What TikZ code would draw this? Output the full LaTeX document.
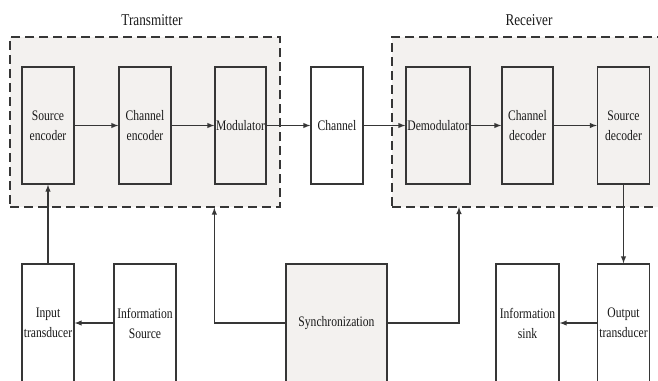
\documentclass[tikz,border=0pt]{standalone}
\usepackage{fontspec}
\setmainfont{Liberation Serif}[FakeStretch=0.8]
\usetikzlibrary{arrows,positioning}
\definecolor{boxfill}{HTML}{F3F1EF}
\definecolor{linegray}{HTML}{363636}
\tikzset{
  block/.style={draw=linegray, line width=1.3pt, fill=boxfill, minimum width=52pt,
    minimum height=117pt, align=center, inner sep=1pt,
    font=\fontsize{14.5}{20}\selectfont, text=black!90},
  plain/.style={block, fill=white},
  lowblock/.style={minimum height=118pt},
  group/.style={draw=linegray, line width=1.3pt, dash pattern=on 9pt off 5pt, fill=boxfill},
  flow/.style={-latex, line width=1.4pt, draw=linegray},
  title/.style={font=\fontsize{16.5}{18}\selectfont, text=black!90}
}

\begin{document}
\begin{tikzpicture}[x=1pt,y=-1pt]
\useasboundingbox (0,0) rectangle (658,380);
\clip (0,0) rectangle (658,380);
% dashed groups
\node[group, minimum width=270pt, minimum height=170pt] (tx) at (145,122) {};
\node[group, minimum width=290pt, minimum height=170pt] (rx) at (537,122) {};
\node[title] (txlabel) at (152,20) {Transmitter};
\node[title] (rxlabel) at (529,20) {Receiver};

% top row
\node[block] (srcenc) at (48,125.5) {Source\\encoder};
\node[block] (chenc) at (145,125.5) {Channel\\encoder};
\node[block, minimum width=51pt] (mod) at (240.5,125.5) {Modulator};
\node[plain] (chan) at (337,125.5) {Channel};
\node[block, minimum width=64pt] (demod) at (438,125.5) {Demodulator};
\node[block, minimum width=51pt] (chdec) at (527.5,125.5) {Channel\\decoder};
\node[block] (srcdec) at (623.5,125.5) {Source\\decoder};

% bottom row
\node[plain, lowblock] (intrans) at (48,323) {Input\\transducer};
\node[plain, lowblock, minimum width=62pt] (infosrc) at (145,323) {Information\\Source};
\node[block, lowblock, minimum width=101pt] (sync) at (336.5,323) {Synchronization};
\node[plain, lowblock, minimum width=63pt] (sink) at (527.5,323) {Information\\sink};
\node[plain, lowblock] (outtrans) at (623.5,323) {Output\\transducer};

% signal path
\draw[flow] (srcenc) -- (chenc);
\draw[flow] (chenc) -- (mod);
\draw[flow] (mod) -- (chan);
\draw[flow] (chan) -- (demod);
\draw[flow] (demod) -- (chdec);
\draw[flow] (chdec) -- (srcdec);
\draw[flow] (infosrc) -- (intrans);
\draw[flow] (intrans) -- (srcenc);
\draw[flow] (srcdec) -- (outtrans);
\draw[flow] (outtrans) -- (sink);

% synchronization
\coordinate (rxin) at (459,207);
\draw[flow] (sync.west) -| (mod.west |- tx.south);
\draw[flow] (sync.east) -| (rxin);
\end{tikzpicture}
\end{document}
